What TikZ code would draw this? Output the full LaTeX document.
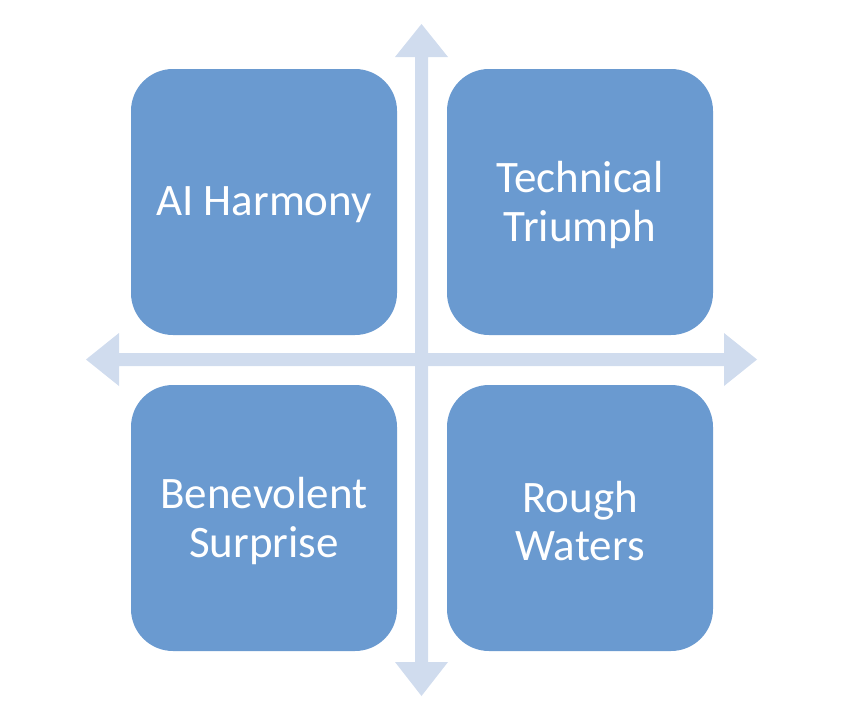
\documentclass[tikz,border=0pt]{standalone}
\usepackage{fontspec}
\setmainfont{Carlito}
\definecolor{boxblue}{RGB}{106,154,208}
\definecolor{axisblue}{RGB}{208,220,238}
\begin{document}
\begin{tikzpicture}[x=1pt,y=-1pt,
  quad/.style={fill=boxblue, draw=none, rounded corners=42pt, minimum width=266pt, minimum height=266pt, inner sep=0pt, text=white, align=center, font=\fontsize{45}{48.5}\selectfont},
  txt/.style={text=white, align=center, inner sep=0pt, font=\fontsize{45}{48.5}\selectfont}]
\useasboundingbox (0,0) rectangle (852,728);
% vertical axis
\fill[axisblue] (421.5,24) -- (448,57) -- (428,57) -- (428,662) -- (448,662) -- (421.5,696) -- (395,662) -- (415,662) -- (415,57) -- (395,57) -- cycle;
% horizontal axis
\fill[axisblue] (86,359.5) -- (119,333) -- (119,353) -- (724,353) -- (724,333) -- (757,359.5) -- (724,386) -- (724,366) -- (119,366) -- (119,386) -- cycle;
\node[quad] (tl) at (264,202) {};
\node[quad] (tr) at (580,202) {};
\node[quad] (bl) at (264,518) {};
\node[quad] (br) at (580,518) {};
\node[txt, yshift=-3pt] (tltext) at (tl.center) {AI Harmony};
\node[txt, yshift=-3pt] (trtext) at (tr.center) {Technical\\Triumph};
\node[txt, yshift=-3pt] (bltext) at (bl.center) {Benevolent\\Surprise};
\node[txt, yshift=-3pt] (brtext) at (br.center) {Rough\\Waters};
\end{tikzpicture}
\end{document}
